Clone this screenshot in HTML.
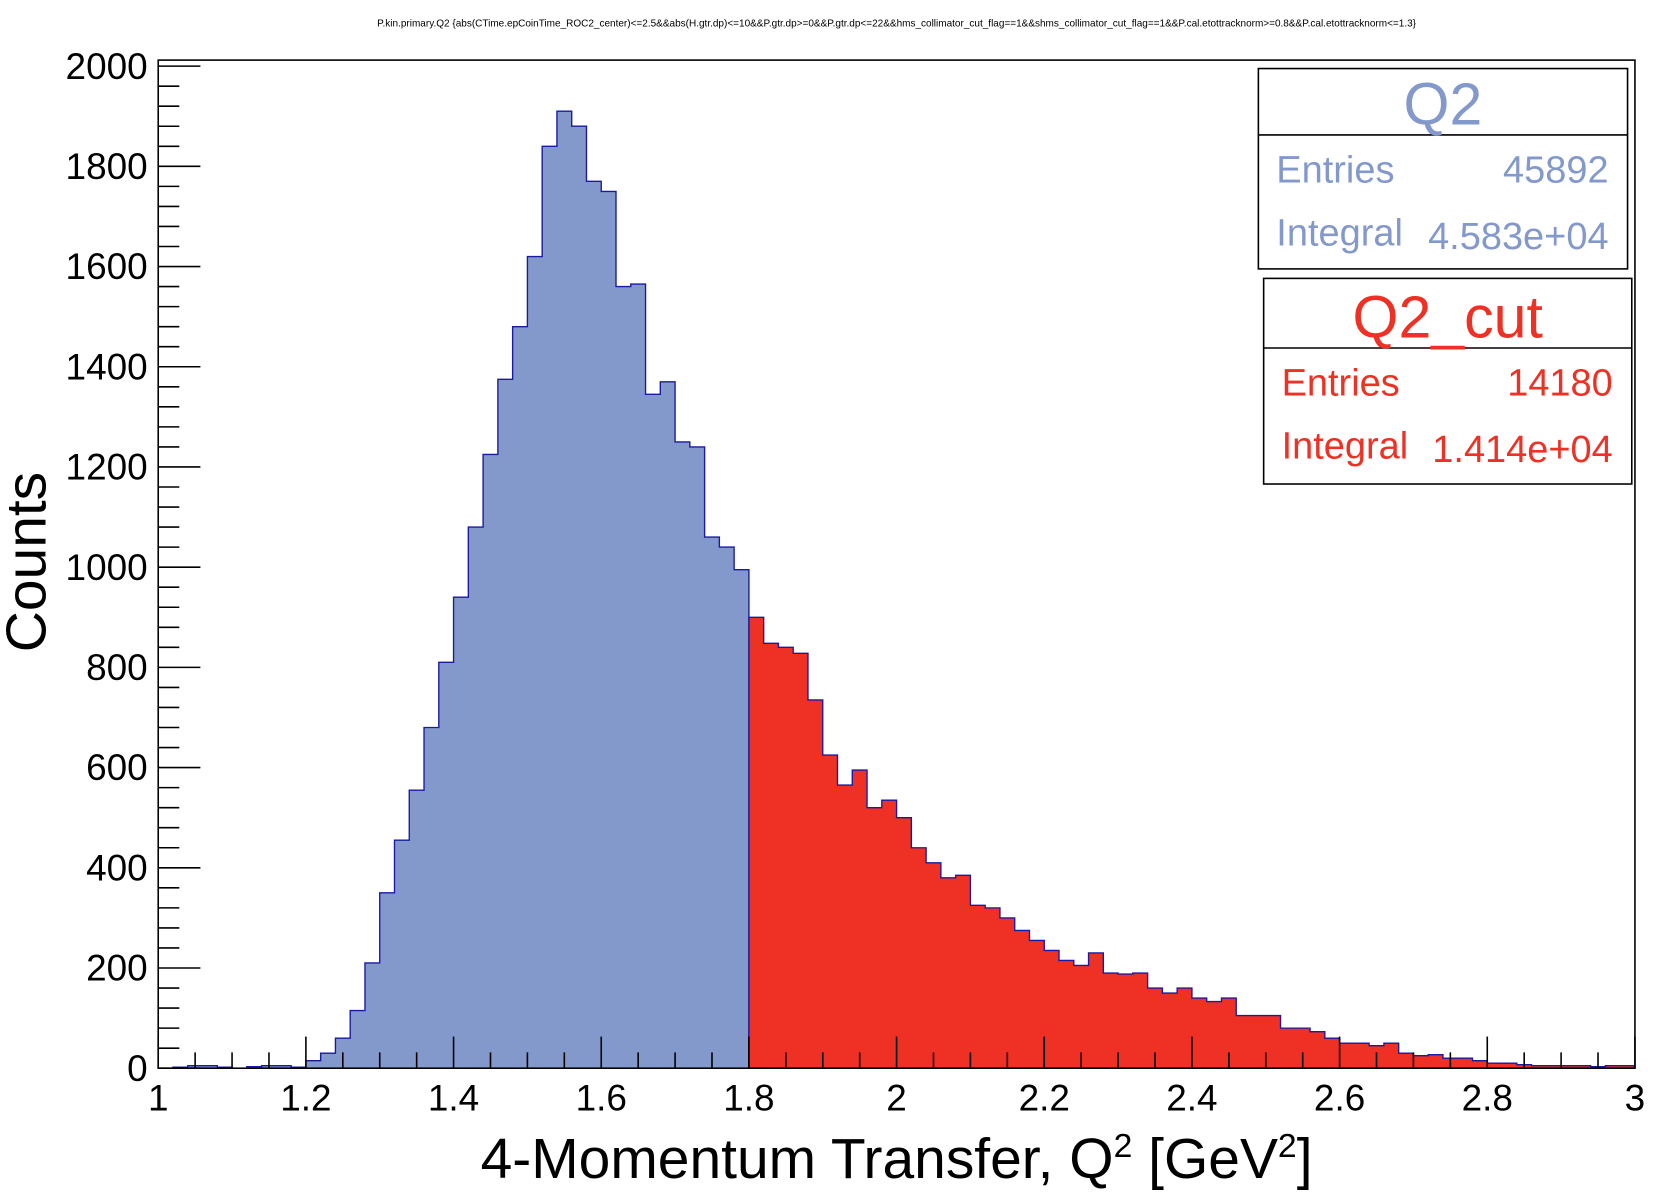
<!DOCTYPE html>
<html><head><meta charset="utf-8"><style>
html,body{margin:0;padding:0;background:#fff;}
svg{display:block;}
text{font-family:"Liberation Sans",sans-serif;}
</style></head><body>
<svg id="c" width="1654" height="1200" viewBox="0 0 1654 1200" xmlns="http://www.w3.org/2000/svg">
<g id="root" transform="scale(1.0548,1.0545)"></g>
</svg>
<script>
const xEdges = [1, 3];
const yMax = 2012;
const blueCounts = [0,2,5,5,2,0,3,5,5,2,15,30,60,115,210,350,455,555,680,810,940,1080,1225,1375,1480,1620,1840,1910,1880,1770,1750,1560,1565,1345,1370,1250,1240,1060,1040,995];
const redCounts = [900,848,840,828,735,625,565,595,520,535,500,440,410,380,385,325,320,300,275,255,235,215,205,230,190,188,190,160,150,160,140,133,140,105,105,105,80,80,73,60,50,50,45,50,30,25,27,20,20,15,10,10,7,5,5,5,5,3,5,5];
const xTicks = ["1","1.2","1.4","1.6","1.8","2","2.2","2.4","2.6","2.8","3"];
const yTicks = ["0","200","400","600","800","1000","1200","1400","1600","1800","2000"];
const binWidth = 0.02;

const NS="http://www.w3.org/2000/svg";
const root=document.getElementById('root');
const L=150,R=1550,T=57,B=1013;
const X=v=>L+(v-xEdges[0])/(xEdges[1]-xEdges[0])*(R-L);
const Y=v=>B-v/yMax*(B-T);
function mk(tag,attrs,parent){const e=document.createElementNS(NS,tag);for(const k in attrs)e.setAttribute(k,attrs[k]);(parent||root).appendChild(e);return e;}

function histPath(counts,start){
  let d=`M${X(start)},${Y(0)}`;
  counts.forEach((c,i)=>{const x0=X(start+i*binWidth),x1=X(start+(i+1)*binWidth);d+=` L${x0},${Y(c)} L${x1},${Y(c)}`;});
  d+=` L${X(start+counts.length*binWidth)},${Y(0)} Z`;
  return d;
}
const hb=mk('path',{d:histPath(blueCounts,1.0),fill:'#8399cc',stroke:'#1a1aa0','stroke-width':1.3});


const hr=mk('path',{d:histPath(redCounts,1.8),fill:'#ee3124',stroke:'#1a1aa0','stroke-width':1.3});



const frame=mk('rect',{x:L,y:T,width:R-L,height:B-T,fill:'none',stroke:'#000','stroke-width':1.5});



for(let v=0;v<=2000;v+=40){const maj=v%200===0;mk('line',{x1:L,x2:L+(maj?40:20),y1:Y(v),y2:Y(v),stroke:'#000','stroke-width':1.5});}
yTicks.forEach(t=>{const e=mk('text',{x:140,y:Y(+t)+12,'text-anchor':'end','font-size':35});e.textContent=t;

});
for(let k=0;k<=40;k++){const v=1+k*0.05;const maj=k%4===0;mk('line',{x1:X(v),x2:X(v),y1:B,y2:B-(maj?30:15),stroke:'#000','stroke-width':1.5});}
xTicks.forEach(t=>{const e=mk('text',{x:X(+t),y:1053,'text-anchor':'middle','font-size':35});e.textContent=t;

});
</script>
<script>
(function(){
const NS="http://www.w3.org/2000/svg";const root=document.getElementById('root');
function mk(tag,attrs,txt){const e=document.createElementNS(NS,tag);for(const k in attrs)e.setAttribute(k,attrs[k]);if(txt!==undefined)e.textContent=txt;root.appendChild(e);return e;}
let e;
e=mk('text',{x:850,y:25,'text-anchor':'middle','font-size':9.5},'P.kin.primary.Q2 {abs(CTime.epCoinTime_ROC2_center)<=2.5&&abs(H.gtr.dp)<=10&&P.gtr.dp>=0&&P.gtr.dp<=22&&hms_collimator_cut_flag==1&&shms_collimator_cut_flag==1&&P.cal.etottracknorm>=0.8&&P.cal.etottracknorm<=1.3}');


e=mk('text',{x:0,y:0,'text-anchor':'middle','font-size':54,transform:'translate(43,533) rotate(-90)'},'Counts');


e=mk('text',{x:850,y:1117,'text-anchor':'middle','font-size':54});
e.innerHTML='4-Momentum Transfer, Q<tspan dy="-20" font-size="32">2</tspan><tspan dy="20"> [GeV</tspan><tspan dy="-20" font-size="32">2</tspan><tspan dy="20">]</tspan>';


function box(x,y,w,h,hl,col,title,entries,integral,nm){
  const r=mk('rect',{x:x,y:y,width:w,height:h,fill:'#fff',stroke:'#000','stroke-width':1.5});
  
  
  mk('line',{x1:x,x2:x+w,y1:y+hl,y2:y+hl,stroke:'#000','stroke-width':1.5});
  mk('text',{x:x+w/2,y:y+hl-10,'text-anchor':'middle','font-size':56,fill:col},title);
  mk('text',{x:x+17,y:y+hl+45,'font-size':36,fill:col},'Entries');
  mk('text',{x:x+w-18,y:y+hl+45,'text-anchor':'end','font-size':36,fill:col},entries);
  mk('text',{x:x+17,y:y+hl+105,'font-size':36,fill:col},'Integral');
  mk('text',{x:x+w-18,y:y+hl+108,'text-anchor':'end','font-size':36,fill:col},integral);
}
box(1193,65,350,190,63,'#8399cc','Q2','45892','4.583e+04','stats-box-q2');
box(1198,264,349,195,66,'#ee3124','Q2_cut','14180','1.414e+04','stats-box-q2-cut');
})();
</script>
</body></html>
